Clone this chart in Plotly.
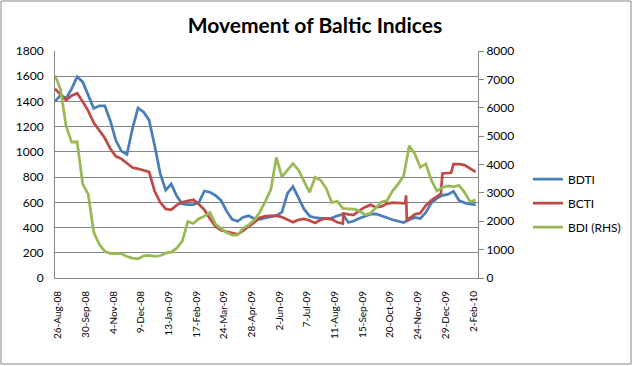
import pandas as pd
import plotly.graph_objects as go

# ---------------- data ----------------
week_dates = pd.date_range("2008-08-22", "2010-02-05", freq="7D")  # weekly sampling
tick_dates = pd.date_range("2008-08-26", "2010-02-02", freq="35D")  # axis labels

bdti = [1398, 1450, 1425, 1500, 1595, 1555, 1450, 1345, 1365, 1365,
        1245, 1090, 1006, 980, 1185, 1348, 1316, 1252, 1050, 830,
        697, 745, 650, 588, 582, 582, 600, 690, 680, 655,
        615, 530, 465, 450, 482, 493, 470, 465, 477, 485,
        495, 522, 670, 725, 632, 546, 492, 478, 472, 472,
        475, 493, 505, 440, 452, 474, 491, 506, 508, 490,
        478, 462, 453, 440, 462, 480, 472, 520, 596, 631,
        656, 663, 687, 615, 596, 590, 580]

bcti = [1500, 1452, 1410, 1445, 1465, 1400, 1325, 1230, 1165, 1110,
        1025, 965, 945, 910, 876, 866, 852, 842, 690, 600,
        548, 540, 578, 600, 612, 620, 585, 540, 470, 408,
        378, 367, 357, 346, 375, 404, 440, 478, 490, 492,
        495, 483, 464, 443, 462, 469, 456, 437, 462, 472,
        465, 442, 432, 505, 500, 535, 562, 580, 560, 568,
        590, 597, 595, 590, 472, 505, 515, 575, 615, 650,
        829, 832, 903, 903, 895, 865, 842]
bcti_extra_dates = ["2009-08-22", "2009-11-08", "2009-11-09", "2009-11-10",
                    "2009-12-23", "2010-01-05"]
bcti_extra = [512, 592, 655, 462, 668, 834]

bdi = [7140, 6650, 5360, 4790, 4800, 3320, 2950, 1610, 1190, 940,
       860, 845, 855, 760, 700, 675, 783, 800, 760, 783,
       875, 910, 1050, 1300, 1990, 1920, 2090, 2180, 2311, 1900,
       1750, 1600, 1510, 1515, 1755, 1870, 2040, 2320, 2700, 3120,
       4250, 3560, 3800, 4030, 3800, 3380, 3020, 3550, 3445, 3160,
       2660, 2700, 2450, 2440, 2430, 2360, 2230, 2280, 2480, 2680,
       2730, 3070, 3310, 3600, 4660, 4380, 3900, 4020, 3450, 3070,
       3190, 3245, 3217, 3266, 3020, 2690, 2745]

series_names = ["BDTI", "BCTI", "BDI (RHS)"]

# ---------------- build ----------------
bcti_s = pd.concat([
    pd.Series(bcti, index=week_dates),
    pd.Series(bcti_extra, index=pd.to_datetime(bcti_extra_dates)),
]).sort_index()

FONT = "Lato"
GRID = "#868686"

fig = go.Figure()
fig.add_trace(go.Scatter(x=week_dates, y=bdti, name=series_names[0], mode="lines",
                         line=dict(color="#4A7EBB", width=2.75), legendgroup="a"))
fig.add_trace(go.Scatter(x=bcti_s.index, y=bcti_s.values, name=series_names[1], mode="lines",
                         line=dict(color="#BE4B48", width=2.75), legendgroup="b"))
fig.add_trace(go.Scatter(x=week_dates, y=bdi, name=series_names[2], mode="lines",
                         line=dict(color="#98B954", width=2.75), legendgroup="c",
                         yaxis="y2"))

fig.update_layout(
    width=633, height=366,
    margin=dict(l=55, r=155, t=51, b=88, autoexpand=False),
    paper_bgcolor="white", plot_bgcolor="white",
    font=dict(family=FONT, size=12, color="black"),
    title=dict(text="Movement of Baltic Indices", x=0.4976, xref="container",
               xanchor="center", y=1 - 26 / 366, yref="container", yanchor="middle",
               font=dict(family=FONT, size=21, color="black", weight="bold")),
    showlegend=True,
    legend=dict(x=1.118, xanchor="left", y=0.5, yanchor="top",
                font=dict(family=FONT, size=12, color="black"),
                bgcolor="rgba(0,0,0,0)", tracegroupgap=5),
    xaxis=dict(type="date", range=["2008-08-22", "2010-02-08"],
               tickvals=list(tick_dates), tickformat="%-d-%b-%y", tickangle=-90,
               showgrid=False, showline=True, linecolor=GRID, linewidth=1,
               ticks="", ticklabelstandoff=8,
               tickfont=dict(family=FONT, size=10, color="black")),
    yaxis=dict(range=[0, 1800], dtick=200, showgrid=True, gridcolor=GRID, gridwidth=1,
               showline=True, linecolor=GRID, zeroline=False, ticks="",
               ticklabelstandoff=8,
               tickfont=dict(family=FONT, size=12, color="black")),
    yaxis2=dict(range=[0, 8000], dtick=1000, overlaying="y", side="right",
                showgrid=False, showline=True, linecolor=GRID, zeroline=False,
                ticks="outside", ticklen=5, tickcolor=GRID,
                tickfont=dict(family=FONT, size=12, color="black")),
    shapes=[dict(type="rect", xref="paper", yref="paper",
                 x0=-54 / 423, x1=(631 - 55) / 423, y0=(278 - 364) / 227, y1=(278 - 1) / 227,
                 line=dict(color=GRID, width=1), fillcolor="rgba(0,0,0,0)", layer="below")],
)

fig.write_html("out.html")
